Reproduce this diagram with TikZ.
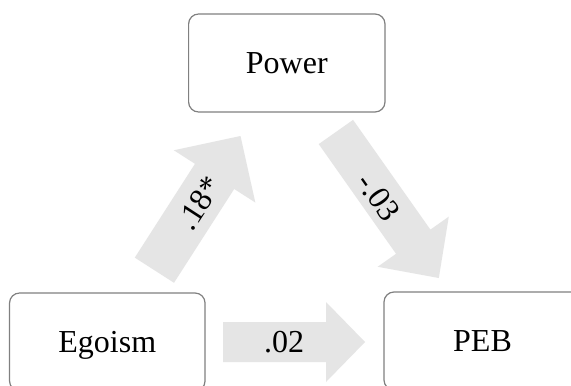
\documentclass[tikz,border=0pt]{standalone}
\usepackage{fontspec}
\setmainfont{Liberation Serif}
\usetikzlibrary{calc}
\tikzset{
  box/.style={draw=black!50, line width=0.6pt, rounded corners=5pt, fill=white,
    inner sep=0pt, text height=10.6pt, text depth=0pt, minimum height=49pt},
  arrowfill/.style={fill=black!10, draw=none},
  lbl/.style={inner sep=0pt, text height=10.6pt, text depth=0pt}
}
\newcommand\blkarrow[5]{%
  \coordinate (#1C) at ($(#2)!#5!(#1)$);
  \fill[arrowfill] ($(#1)!#3!90:(#2)$) -- ($(#1C)!#3!90:(#2)$) -- ($(#1C)!#4!90:(#2)$)
    -- (#2) -- ($(#1C)!#4!-90:(#2)$) -- ($(#1C)!#3!-90:(#2)$) -- ($(#1)!#3!-90:(#2)$) -- cycle;
}
\begin{document}
\begin{tikzpicture}[x=0.5pt, y=-0.5pt]
\fontsize{16}{19}\selectfont
\clip (0,0) rectangle (571,385);
\fill[white] (0,0) rectangle (571,385);
% boxes
\node[box, minimum width=98.2pt] (power) at (286.8,63) {Power};
\node[box, minimum width=97.75pt] (egoism) at (107.3,342) {Egoism};
\node[box, minimum width=98.5pt] (peb) at (482.5,341) {PEB};
% arrow end points
\coordinate (ua) at (154.4,270.2);
\coordinate (ub) at (240.5,136);
\coordinate (da) at (335.9,132);
\coordinate (db) at (438.8,278);
\coordinate (ha) at (223,342);
\coordinate (hb) at (365,342);
\blkarrow{ua}{ub}{11.65pt}{24.2pt}{24pt}
\blkarrow{da}{db}{10.5pt}{21.75pt}{22.2pt}
\blkarrow{ha}{hb}{10pt}{20pt}{19.5pt}
% labels
\node[lbl, rotate=57] (l1) at (199,203) {.18*};
\node[lbl, rotate=-55] (l2) at (379,197) {-.03};
\node[lbl] (l3) at (284,342) {.02};
\end{tikzpicture}
\end{document}
